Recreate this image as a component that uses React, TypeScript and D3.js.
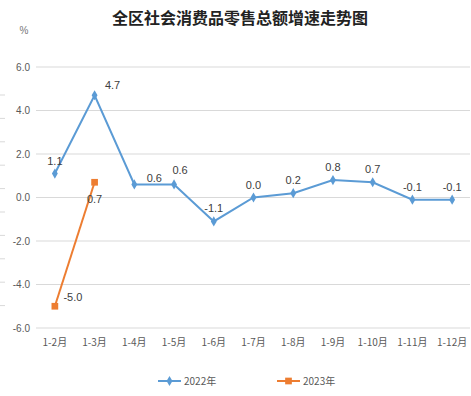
import React, { useRef, useEffect } from 'react';
import * as d3 from 'd3';

const categories = ['1-2月', '1-3月', '1-4月', '1-5月', '1-6月', '1-7月', '1-8月', '1-9月', '1-10月', '1-11月', '1-12月'];
const values2022 = [1.1, 4.7, 0.6, 0.6, -1.1, 0.0, 0.2, 0.8, 0.7, -0.1, -0.1];
const values2023 = [-5.0, 0.7];
const yTicks = [-6, -4, -2, 0, 2, 4, 6];
const seriesNames = ['2022年', '2023年'];

// label nudges (dx, dy) per point, like the original chart's placement
const offsets2022 = [[0, -13], [18, -10], [20, -6], [6, -14], [0, -13], [0, -13], [0, -13], [0, -13], [0, -13], [0, -13], [0, -13]];
const offsets2023 = [[18, -9], [0, 17]];

const fmt = (d: number) => d.toFixed(1);

const App = () => {
  const ref = useRef<SVGSVGElement | null>(null);

  useEffect(() => {
    const width = 471;
    const height = 396;
    const svg = d3.select(ref.current);
    svg.selectAll('*').remove();

    const x = d3.scaleBand().domain(categories).range([35, 472]);
    const y = d3.scaleLinear().domain([-6, 6]).range([328, 67]);
    const cx = (c: string) => (x(c) as number) + x.bandwidth() / 2;

    svg.append('rect').attr('width', width).attr('height', height).attr('fill', '#fff');

    // faint marks at the left border
    svg.append('g')
      .selectAll('line')
      .data(d3.range(95, 310, 23.4))
      .join('line')
      .attr('x1', 0).attr('x2', 5)
      .attr('y1', d => d).attr('y2', d => d)
      .attr('stroke', '#d9d9d9');

    svg.append('text')
      .attr('x', 240).attr('y', 24)
      .attr('text-anchor', 'middle')
      .attr('font-family', '"Noto Sans CJK SC", sans-serif')
      .attr('font-weight', 'bold')
      .attr('font-size', 16)
      .attr('fill', '#222')
      .text('全区社会消费品零售总额增速走势图');

    svg.append('text')
      .attr('x', 24).attr('y', 34)
      .attr('text-anchor', 'middle')
      .attr('font-family', '"Liberation Sans", sans-serif')
      .attr('font-size', 10)
      .attr('fill', '#777')
      .text('%');

    const grid = svg.append('g');
    grid.selectAll('line')
      .data(yTicks)
      .join('line')
      .attr('x1', 36).attr('x2', 470)
      .attr('y1', d => y(d)).attr('y2', d => y(d))
      .attr('stroke', '#d9d9d9');
    grid.selectAll('text')
      .data(yTicks)
      .join('text')
      .attr('x', 30).attr('y', d => y(d) + 3.5)
      .attr('text-anchor', 'end')
      .attr('font-family', '"Liberation Sans", sans-serif')
      .attr('font-size', 10)
      .attr('fill', '#595959')
      .text(d => fmt(d));

    svg.append('g')
      .selectAll('text')
      .data(categories)
      .join('text')
      .attr('x', d => cx(d)).attr('y', 346)
      .attr('text-anchor', 'middle')
      .attr('font-family', '"Noto Sans CJK SC", sans-serif')
      .attr('font-size', 10)
      .attr('fill', '#595959')
      .text(d => d);

    const line = d3.line<number>()
      .x((_, i) => cx(categories[i]))
      .y(d => y(d));

    const drawSeries = (vals: number[], color: string, square: boolean, offs: number[][]) => {
      const g = svg.append('g');
      g.append('path')
        .datum(vals)
        .attr('d', line)
        .attr('fill', 'none')
        .attr('stroke', color)
        .attr('stroke-width', 2);
      const sym = d3.symbol().type(square ? d3.symbolSquare : d3.symbolDiamond).size(square ? 45 : 30);
      g.selectAll('path.m')
        .data(vals)
        .join('path')
        .attr('class', 'm')
        .attr('d', sym)
        .attr('transform', (d, i) => `translate(${cx(categories[i])},${y(d)})`)
        .attr('fill', color);
      g.selectAll('text')
        .data(vals)
        .join('text')
        .attr('x', (d, i) => cx(categories[i]) + offs[i][0])
        .attr('y', (d, i) => y(d) + offs[i][1] + 4)
        .attr('text-anchor', 'middle')
        .attr('font-family', '"Liberation Sans", sans-serif')
        .attr('font-size', 11)
        .attr('fill', '#404040')
        .text(d => fmt(d));
    };

    drawSeries(values2022, '#5b9bd5', false, offsets2022);
    drawSeries(values2023, '#ed7d31', true, offsets2023);

    // legend
    const legend = [
      { name: seriesNames[0], color: '#5b9bd5', square: false, x: 158 },
      { name: seriesNames[1], color: '#ed7d31', square: true, x: 277 },
    ];
    const lg = svg.append('g');
    legend.forEach(l => {
      lg.append('line')
        .attr('x1', l.x).attr('x2', l.x + 23)
        .attr('y1', 381).attr('y2', 381)
        .attr('stroke', l.color).attr('stroke-width', 2);
      lg.append('path')
        .attr('d', d3.symbol().type(l.square ? d3.symbolSquare : d3.symbolDiamond).size(l.square ? 45 : 30)())
        .attr('transform', `translate(${l.x + 11.5},381)`)
        .attr('fill', l.color);
      lg.append('text')
        .attr('x', l.x + 26).attr('y', 385)
        .attr('font-family', '"Noto Sans CJK SC", sans-serif')
        .attr('font-size', 10)
        .attr('fill', '#595959')
        .text(l.name);
    });
  }, []);

  return (
    <svg ref={ref} width={471} height={396} style={{ position: 'absolute', left: 0, top: 0 }} />
  );
};

export default App;
